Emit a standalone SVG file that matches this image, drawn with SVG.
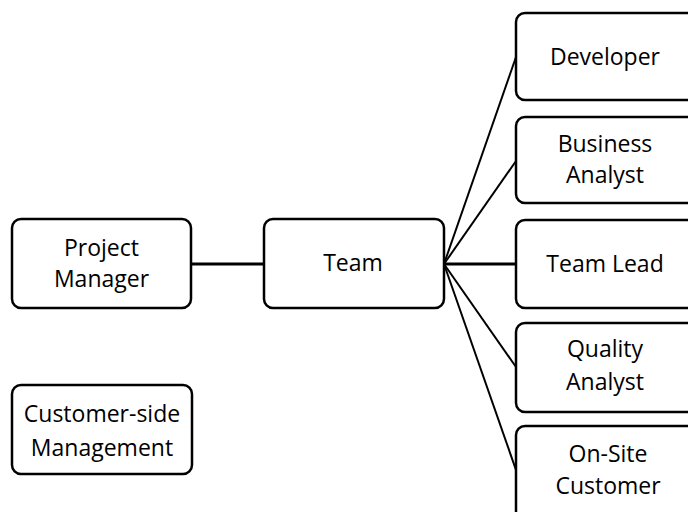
<svg xmlns="http://www.w3.org/2000/svg" width="688" height="512" viewBox="0 0 688 512">
  <style>
    .box { fill: #ffffff; stroke: #000000; stroke-width: 2.5; }
    .lbl { font-family: "Open Sans", "Noto Sans", sans-serif; font-size: 23px; fill: #000000; text-anchor: middle; }
    .link { stroke: #000000; stroke-width: 2; fill: none; }
    .link.main { stroke-width: 3; }
  </style>
  <rect width="688" height="512" fill="#ffffff"/>

  <g id="connectors">
    <line class="link main" x1="191" y1="264" x2="264" y2="264"/>
    <line class="link main" x1="444" y1="264" x2="516" y2="264"/>
    <line class="link" x1="444" y1="264" x2="516" y2="57"/>
    <line class="link" x1="444" y1="264" x2="516" y2="161"/>
    <line class="link" x1="444" y1="264" x2="516" y2="367"/>
    <line class="link" x1="444" y1="264" x2="516" y2="470"/>
  </g>

  <g id="project-manager">
    <rect class="box" x="12" y="219" width="179" height="89" rx="9"/>
    <text class="lbl" x="101.5" y="256">Project</text>
    <text class="lbl" x="101.5" y="287">Manager</text>
  </g>

  <g id="team">
    <rect class="box" x="264" y="219" width="180" height="89" rx="9"/>
    <text class="lbl" x="353" y="271">Team</text>
  </g>

  <g id="customer-side-management">
    <rect class="box" x="12" y="385" width="180" height="89" rx="9"/>
    <text class="lbl" x="102" y="422">Customer-side</text>
    <text class="lbl" x="102" y="456">Management</text>
  </g>

  <g id="developer">
    <rect class="box" x="516" y="13" width="190" height="87" rx="9"/>
    <text class="lbl" x="605" y="65">Developer</text>
  </g>

  <g id="business-analyst">
    <rect class="box" x="516" y="117" width="190" height="86" rx="9"/>
    <text class="lbl" x="605" y="152">Business</text>
    <text class="lbl" x="605" y="183">Analyst</text>
  </g>

  <g id="team-lead">
    <rect class="box" x="516" y="220" width="190" height="88" rx="9"/>
    <text class="lbl" x="605" y="272">Team Lead</text>
  </g>

  <g id="quality-analyst">
    <rect class="box" x="516" y="323" width="190" height="89" rx="9"/>
    <text class="lbl" x="605" y="357">Quality</text>
    <text class="lbl" x="605" y="390">Analyst</text>
  </g>

  <g id="on-site-customer">
    <rect class="box" x="516" y="426" width="190" height="100" rx="9"/>
    <text class="lbl" x="608" y="462">On-Site</text>
    <text class="lbl" x="608" y="494">Customer</text>
  </g>
</svg>
